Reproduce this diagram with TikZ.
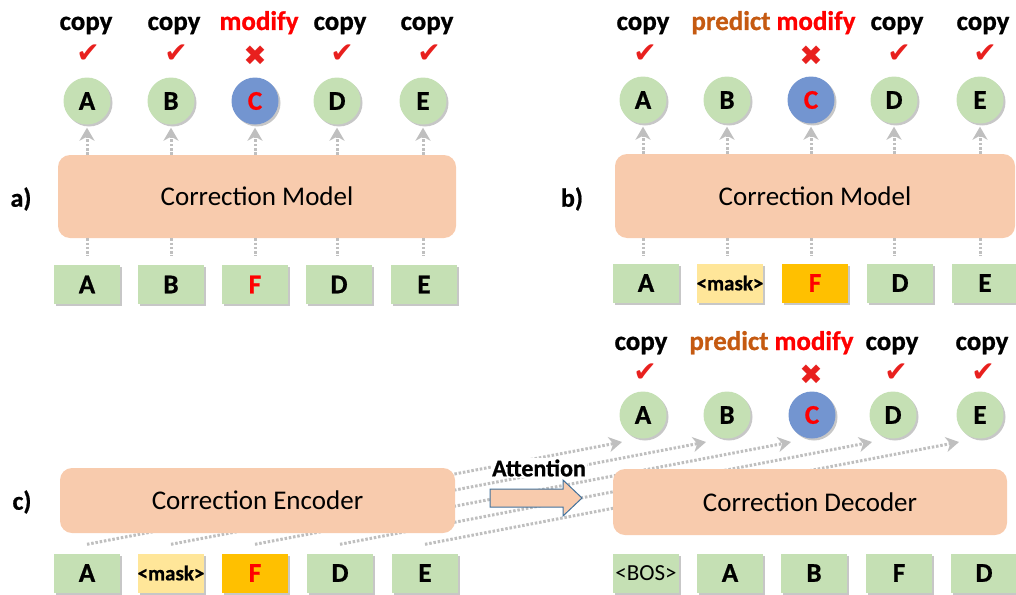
\documentclass[tikz,border=0pt]{standalone}
\usepackage{fontspec}
\setmainfont{Carlito}[BoldFeatures={FakeBold=0.8}]
\newfontfamily\symfont{DejaVu Sans}
\usetikzlibrary{shadows,arrows.meta,backgrounds}
\definecolor{tokgreen}{HTML}{C5E0B4}
\definecolor{modelorange}{HTML}{F8CBAD}
\definecolor{cblue}{HTML}{7395D0}
\definecolor{maskyellow}{HTML}{FFE699}
\definecolor{fgold}{HTML}{FFC000}
\definecolor{predorange}{HTML}{C55A11}
\definecolor{arrowgray}{HTML}{BFBFBF}
\definecolor{markred}{HTML}{E8201E}
\definecolor{arrowblue}{HTML}{41719C}
\tikzset{
 shad/.style={drop shadow={shadow xshift=2pt,shadow yshift=-2pt,opacity=0.22,fill=black}},
 outc/.style={circle,minimum size=47pt,inner sep=0pt,fill=tokgreen,shad,font=\fontsize{27}{27}\selectfont\bfseries},
 tok/.style={rectangle,minimum width=66pt,minimum height=39pt,inner sep=0pt,fill=tokgreen,shad,font=\fontsize{27}{27}\selectfont\bfseries},
 model/.style={rectangle,rounded corners=12pt,fill=modelorange,inner sep=0pt,font=\fontsize{27}{27}\selectfont},
 lab/.style={anchor=base,inner sep=0pt,font=\fontsize{27}{27}\selectfont\bfseries},
 chk/.style={inner sep=0pt,text=markred,font=\symfont\fontsize{28}{28}\selectfont},
 panel/.style={inner sep=0pt,font=\fontsize{26}{26}\selectfont\bfseries},
 dotl/.style={draw=arrowgray,line width=3pt,dash pattern=on 2.5pt off 1.8pt},
 dotarr/.style={dotl,-{Stealth[length=13pt,width=15pt,inset=4pt]}},
}
\begin{document}
\begin{tikzpicture}[x=1pt,y=-1pt]
\useasboundingbox (0,0) rectangle (1016,594);

% ---------------- panel a
\node[model,minimum width=398pt,minimum height=83pt] (ma) at (257,196.5) {Correction Model};
\node[panel] (pa) at (21,199) {a)};
\foreach \n/\x/\t in {1/87/A,2/171/B,4/337/D,5/423/E}{\node[outc] (ca\n) at (\x,101) {\t};}
\node[outc,fill=cblue,text=red] (ca3) at (255,101) {C};
\foreach \n/\x in {1/86,2/174,4/340,5/427}{\node[lab] (la\n) at (\x,30) {copy};}
\node[lab,text=red] (la3) at (259,30) {modify};
\foreach \n/\x in {1/88,2/176,4/342,5/429}{\node[chk] (ka\n) at (\x,54) {✔};}
\node[chk] (ka3) at (255,56) {✖};
\foreach \n/\x/\t in {1/87/A,2/171/B,4/339/D,5/424/E}{\node[tok] (ta\n) at (\x,284.5) {\t};}
\node[tok,text=red] (ta3) at (255,284.5) {F};
\foreach \n in {1,...,5}{
  \draw[dotarr,shorten >=3pt] (ma.north -| ca\n) -- (ca\n);
  \draw[dotl] (ma.south -| ca\n) -- ++(0,18);
}

% ---------------- panel b
\node[model,minimum width=400pt,minimum height=84pt] (mb) at (815,196) {Correction Model};
\node[panel] (pb) at (572,199) {b)};
\foreach \n/\x/\t in {1/643/A,2/727/B,4/894/D,5/980/E}{\node[outc] (cb\n) at (\x,100) {\t};}
\node[outc,fill=cblue,text=red] (cb3) at (811,100) {C};
\foreach \n/\x in {1/643,4/897,5/983}{\node[lab] (lb\n) at (\x,30) {copy};}
\node[lab,text=predorange] (lb2) at (731,30) {predict};
\node[lab,text=red] (lb3) at (816,30) {modify};
\foreach \n/\x in {1/645,4/899,5/985}{\node[chk] (kb\n) at (\x,54) {✔};}
\node[chk] (kb3) at (811,56) {✖};
\foreach \n/\x/\t in {1/646/A,4/900/D,5/985/E}{\node[tok] (tb\n) at (\x,283) {\t};}
\node[tok,fill=maskyellow,font=\fontsize{21}{21}\selectfont\bfseries] (tb2) at (730,283) {<mask>};
\node[tok,fill=fgold,text=red] (tb3) at (815,283) {F};
\foreach \n in {1,...,5}{
  \draw[dotarr,shorten >=3pt] (mb.north -| cb\n) -- (cb\n);
  \draw[dotl] (mb.south -| cb\n) -- ++(0,18);
}

% ---------------- panel c
\node[panel] (pc) at (22,502) {c)};
\foreach \n/\x/\t in {1/643/A,2/727/B,4/893/D,5/980/E}{\node[outc] (cc\n) at (\x,415) {\t};}
\node[outc,fill=cblue,text=red] (cc3) at (812,415) {C};
\foreach \n/\x in {1/641,4/892,5/982}{\node[lab] (lc\n) at (\x,350) {copy};}
\node[lab,text=predorange] (lc2) at (729,350) {predict};
\node[lab,text=red] (lc3) at (814,350) {modify};
\foreach \n/\x in {1/645,4/896,5/983}{\node[chk] (kc\n) at (\x,373) {✔};}
\node[chk] (kc3) at (811,375) {✖};
\foreach \n/\x/\t in {1/87/A,4/340/D,5/425/E}{\node[tok] (tc\n) at (\x,573) {\t};}
\node[tok,fill=maskyellow,font=\fontsize{21}{21}\selectfont\bfseries] (tc2) at (171,573) {<mask>};
\node[tok,fill=fgold,text=red] (tc3) at (255,573) {F};
\foreach \n/\x/\t in {2/730/A,3/814/B,4/899/F,5/984/D}{\node[tok] (dc\n) at (\x,573) {\t};}
\node[tok,font=\fontsize{23}{23}\selectfont] (dc1) at (646,573) {<BOS>};
\begin{pgfonlayer}{background}
\foreach \n in {1,...,5}{
  \draw[dotarr] ([yshift=9pt]tc\n.north) -- ([xshift=-21pt,yshift=-27pt]cc\n.center);
}
\end{pgfonlayer}
\node[model,minimum width=395pt,minimum height=65pt] (enc) at (257.5,500.5) {Correction Encoder};
\node[model,minimum width=394pt,minimum height=66pt] (dec) at (810,502) {Correction Decoder};
\node[fill=white,inner sep=1pt,font=\fontsize{24}{24}\selectfont\bfseries] (attn) at (539,468) {Attention};
\draw[fill=modelorange,draw=arrowblue,line width=1pt] (490,489) -- (563,489) -- (563,480) -- (582,498) -- (563,516) -- (563,507) -- (490,507) -- cycle;
\end{tikzpicture}
\end{document}
